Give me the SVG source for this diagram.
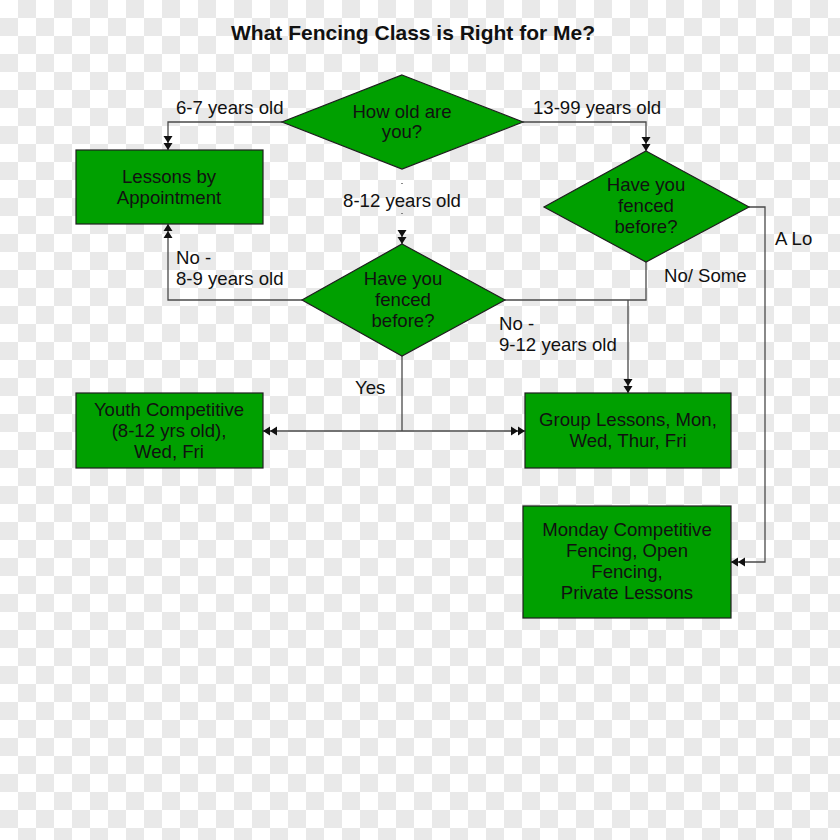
<svg xmlns="http://www.w3.org/2000/svg" width="840" height="840" viewBox="0 0 840 840">
<style>
.n{fill:#00a000;stroke:#1e1e1e;stroke-width:1.2}
.t{font-family:"Liberation Sans",Arial,sans-serif;font-size:18.6px;fill:#111}
.c{text-anchor:middle}
.title{font-family:"Liberation Sans",Arial,sans-serif;font-size:21px;font-weight:bold;fill:#111;text-anchor:middle}
.e{fill:none;stroke:#4a4a4a;stroke-width:1.3}
</style>
<defs>
<pattern id="chk" width="36" height="36" patternUnits="userSpaceOnUse">
<rect width="36" height="36" fill="#ffffff"/>
<rect x="18" y="0" width="18" height="18" fill="#e9e9e9"/>
<rect x="0" y="18" width="18" height="18" fill="#e9e9e9"/>
</pattern>
<marker id="a2" markerUnits="userSpaceOnUse" markerWidth="14" markerHeight="10" refX="14" refY="5" orient="auto">
<path d="M0,0.5 L7,5 L0,9.5 Z M7,0.5 L14,5 L7,9.5 Z" fill="#111"/>
</marker>
</defs>
<rect width="840" height="840" fill="url(#chk)"/>
<text class="title" x="413" y="40">What Fencing Class is Right for Me?</text>

<g id="connectors">
<path class="e" d="M282,122 H168 V150" marker-end="url(#a2)"/>
<path class="e" d="M523,122 H646 V151" marker-end="url(#a2)"/>
<path class="e" d="M402,169 V230" stroke-dasharray="1 29" stroke-dashoffset="-14"/>
<path class="e" d="M402,230 V244" marker-end="url(#a2)"/>
<path class="e" d="M302,300 H168 V224" marker-end="url(#a2)"/>
<path class="e" d="M646,262 V300 H505"/>
<path class="e" d="M628,300 V393" marker-end="url(#a2)"/>
<path class="e" d="M402,356 V431"/>
<path class="e" d="M402,431 H263" marker-end="url(#a2)"/>
<path class="e" d="M402,431 H525" marker-end="url(#a2)"/>
<path class="e" d="M749,207 H765 V562 H731" marker-end="url(#a2)"/>
<text class="t" x="176" y="114">6-7 years old</text>
<text class="t" x="533" y="114">13-99 years old</text>
<text class="t c" x="402" y="207">8-12 years old</text>
<text class="t" x="176" y="264">No -</text>
<text class="t" x="176" y="285">8-9 years old</text>
<text class="t" x="499" y="330">No -</text>
<text class="t" x="499" y="351">9-12 years old</text>
<text class="t" x="664" y="282">No/ Some</text>
<text class="t" x="775" y="245">A Lo</text>
<text class="t" x="355" y="394">Yes</text>
</g>

<g id="q-age">
<polygon class="n" points="402,75 523,122 402,169 282,122"/>
<text class="t c" x="402" y="118">How old are</text>
<text class="t c" x="402" y="138">you?</text>
</g>

<g id="lessons-appointment">
<rect class="n" x="76" y="150" width="187" height="74"/>
<text class="t c" x="169" y="183">Lessons by</text>
<text class="t c" x="169" y="204">Appointment</text>
</g>

<g id="q-fenced-adult">
<polygon class="n" points="646,151 749,207 646,262 544,207"/>
<text class="t c" x="646" y="191">Have you</text>
<text class="t c" x="646" y="212">fenced</text>
<text class="t c" x="646" y="233">before?</text>
</g>

<g id="q-fenced-youth">
<polygon class="n" points="402,244 505,300 402,356 302,300"/>
<text class="t c" x="403" y="285">Have you</text>
<text class="t c" x="403" y="306">fenced</text>
<text class="t c" x="403" y="327">before?</text>
</g>

<g id="youth-competitive">
<rect class="n" x="76" y="393" width="187" height="75"/>
<text class="t c" x="169" y="416">Youth Competitive</text>
<text class="t c" x="169" y="437">(8-12 yrs old),</text>
<text class="t c" x="169" y="458">Wed, Fri</text>
</g>

<g id="group-lessons">
<rect class="n" x="525" y="393" width="206" height="75"/>
<text class="t c" x="628" y="426">Group Lessons, Mon,</text>
<text class="t c" x="628" y="447">Wed, Thur, Fri</text>
</g>

<g id="monday-competitive">
<rect class="n" x="523" y="506" width="208" height="112"/>
<text class="t c" x="627" y="536">Monday Competitive</text>
<text class="t c" x="627" y="557">Fencing, Open</text>
<text class="t c" x="627" y="578">Fencing,</text>
<text class="t c" x="627" y="599">Private Lessons</text>
</g>
</svg>
